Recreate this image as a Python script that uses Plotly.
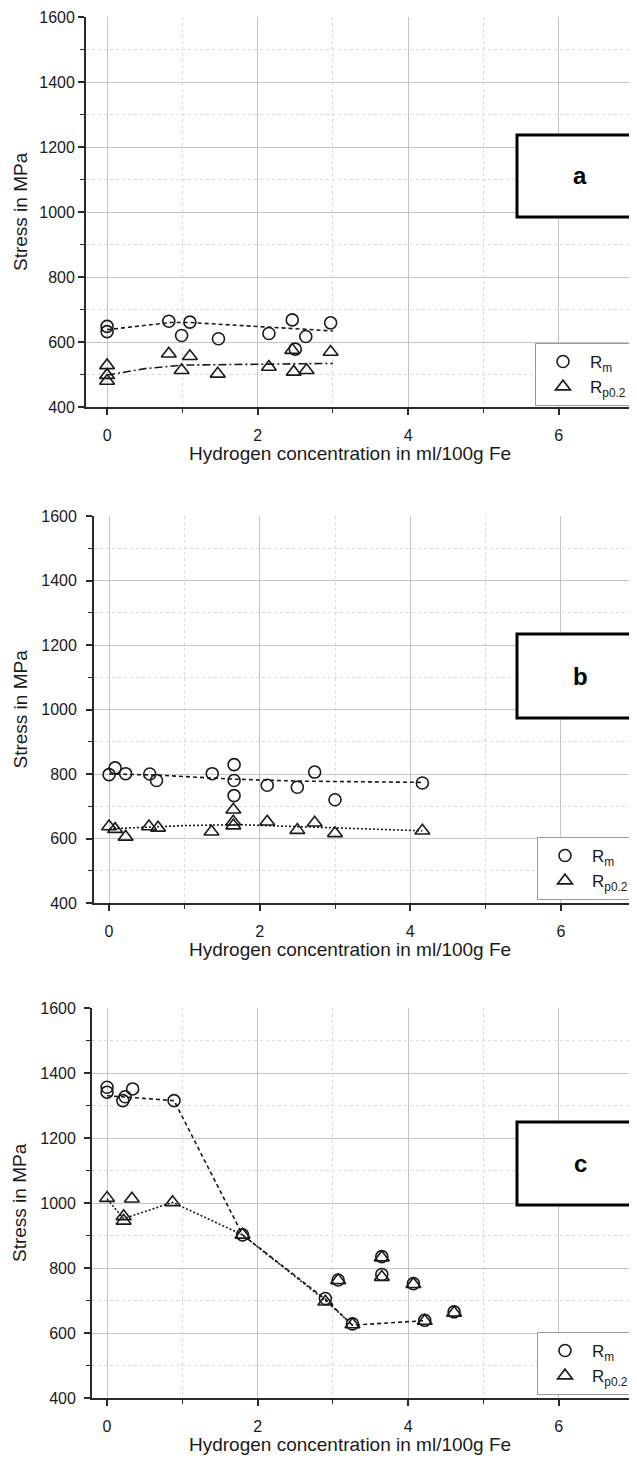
import plotly.graph_objects as go

# ---------------- data ----------------
# Panel a
a_rm_x = [0.0, 0.0, 0.82, 0.99, 1.10, 1.48, 2.15, 2.46, 2.50, 2.64, 2.97]
a_rm_y = [648, 632, 664, 620, 661, 610, 626, 668, 578, 617, 659]
a_rp_x = [0.0, 0.0, 0.0, 0.82, 0.99, 1.10, 1.47, 2.15, 2.46, 2.48, 2.65, 2.97]
a_rp_y = [528, 498, 480, 564, 513, 556, 502, 523, 575, 508, 513, 569]
a_rm_fit_x = [0.0, 0.85, 1.1, 2.2, 3.0]
a_rm_fit_y = [638, 660, 660, 646, 634]
a_rp_fit_x = [0.0, 0.5, 1.0, 2.0, 3.0]
a_rp_fit_y = [498, 518, 529, 532, 534]

# Panel b
b_rm_x = [0.0, 0.08, 0.22, 0.54, 0.63, 1.37, 1.66, 1.66, 1.66, 2.10, 2.50, 2.73, 3.00, 4.16]
b_rm_y = [798, 819, 801, 800, 780, 801, 829, 780, 733, 765, 759, 806, 720, 772]
b_rp_x = [0.0, 0.08, 0.22, 0.53, 0.65, 1.36, 1.65, 1.65, 1.65, 2.10, 2.50, 2.73, 3.00, 4.16]
b_rp_y = [637, 629, 605, 637, 633, 621, 689, 652, 640, 652, 626, 649, 616, 624]
b_rm_fit_x = [0.0, 0.6, 1.66, 2.5, 4.16]
b_rm_fit_y = [800, 797, 784, 778, 774]
b_rp_fit_x = [0.0, 1.0, 1.7, 3.0, 4.16]
b_rp_fit_y = [630, 640, 643, 633, 624]

# Panel c
c_rm_x = [0.0, 0.0, 0.21, 0.24, 0.34, 0.89, 1.80, 2.90, 3.07, 3.26, 3.65, 3.65, 4.07, 4.22, 4.61]
c_rm_y = [1356, 1341, 1315, 1327, 1351, 1315, 902, 706, 763, 628, 835, 780, 752, 639, 665]
c_rp_x = [0.0, 0.22, 0.22, 0.33, 0.87, 1.80, 2.90, 3.07, 3.26, 3.65, 3.65, 4.07, 4.22, 4.61]
c_rp_y = [1015, 959, 945, 1013, 1002, 902, 696, 762, 626, 832, 772, 750, 637, 662]
c_rm_fit_x = [0.0, 0.89, 1.80, 2.90, 3.26, 4.22]
c_rm_fit_y = [1330, 1315, 902, 704, 624, 638]
c_rp_fit_x = [0.0, 0.22, 0.87, 1.80, 2.90, 3.26]
c_rp_fit_y = [1012, 952, 1002, 902, 700, 625]

panel_labels = ["a", "b", "c"]
x_title = "Hydrogen concentration in ml/100g Fe"
y_title = "Stress in MPa"
rm_name = "R<sub>m</sub>"
rp_name = "R<sub>p0.2</sub>"

# ---------------- geometry (screen pixels; page has an 8px body margin) ----------------
OFF = 8
W, H = 637 - OFF, 1462 - OFF


def px(x):
    return (x - OFF) / W


def py(y):
    return 1 - (y - OFF) / H


panels = [
    dict(left=86, top=17, bottom=407, xr=[-0.28, 7.04], box=(517, 135, 217), leg=(535, 343), ytx=20, ystand=0,
         rm=(a_rm_x, a_rm_y, a_rm_fit_x, a_rm_fit_y), rp=(a_rp_x, a_rp_y, a_rp_fit_x, a_rp_fit_y),
         rpdash="8px,3px,2px,3px"),
    dict(left=94, top=516, bottom=903, xr=[-0.20, 7.01], box=(517, 634, 718), leg=(537, 837), ytx=20, ystand=6,
         rm=(b_rm_x, b_rm_y, b_rm_fit_x, b_rm_fit_y), rp=(b_rp_x, b_rp_y, b_rp_fit_x, b_rp_fit_y),
         rpdash="2px,2px"),
    dict(left=92, top=1008, bottom=1398, xr=[-0.20, 7.04], box=(517, 1122, 1205), leg=(537, 1332), ytx=19, ystand=5,
         rm=(c_rm_x, c_rm_y, c_rm_fit_x, c_rm_fit_y), rp=(c_rp_x, c_rp_y, c_rp_fit_x, c_rp_fit_y),
         rpdash="2px,2px"),
]

INK = "#1a1a1a"
FONT = "Liberation Sans, Arial"
fig = go.Figure()
shapes = []
annotations = []
layout = {}

for i, p in enumerate(panels):
    n = "" if i == 0 else str(i + 1)
    xa, ya = "x" + n, "y" + n
    leg = "legend" + n
    rmx, rmy, rmfx, rmfy = p["rm"]
    rpx, rpy, rpfx, rpfy = p["rp"]
    fig.add_trace(go.Scatter(x=rmfx, y=rmfy, mode="lines", xaxis=xa, yaxis=ya, showlegend=False,
                             line=dict(color=INK, width=1.6, dash="4px,3px"), hoverinfo="skip"))
    fig.add_trace(go.Scatter(x=rpfx, y=rpfy, mode="lines", xaxis=xa, yaxis=ya, showlegend=False,
                             line=dict(color=INK, width=1.6, dash=p["rpdash"]), hoverinfo="skip"))
    fig.add_trace(go.Scatter(x=rmx, y=rmy, mode="markers", name=rm_name, xaxis=xa, yaxis=ya, legend=leg,
                             marker=dict(symbol="circle-open", size=12, color=INK, line=dict(width=1.6, color=INK))))
    fig.add_trace(go.Scatter(x=rpx, y=rpy, mode="markers", name=rp_name, xaxis=xa, yaxis=ya, legend=leg,
                             marker=dict(symbol="triangle-up-open", size=13, color=INK, line=dict(width=1.6, color=INK))))

    axcommon = dict(showline=True, linecolor="#2a2a2a", linewidth=1.8, ticks="outside", ticklen=6, tickwidth=1.5,
                    tickcolor="#2a2a2a", showgrid=True, gridcolor="#c4c4c4", gridwidth=1, zeroline=False,
                    tickfont=dict(family=FONT, size=16, color="#1a1a1a"), mirror=False, automargin=False)
    minor = dict(ticks="outside", ticklen=4, tickwidth=1.3, tickcolor="#2a2a2a", showgrid=True,
                 gridcolor="#dadada", griddash="dot", gridwidth=1)
    layout["xaxis" + n] = dict(axcommon, domain=[px(p["left"]), 1.0], range=p["xr"], dtick=2, tick0=0,
                               anchor=ya, minor=dict(minor, dtick=1, tick0=0), ticklabelstandoff=7)
    layout["yaxis" + n] = dict(axcommon, domain=[py(p["bottom"]), py(p["top"])], range=[400, 1600],
                               dtick=200, tick0=400, anchor=xa, minor=dict(minor, dtick=100, tick0=400),
                               ticklabelstandoff=p["ystand"])
    layout[leg] = dict(x=px(p["leg"][0]), y=py(p["leg"][1]), xref="paper", yref="paper",
                       xanchor="left", yanchor="top", bgcolor="white", bordercolor="#999", borderwidth=1,
                       font=dict(family=FONT, size=17, color="#1a1a1a"), itemwidth=44,
                       tracegroupgap=2)
    # axis titles
    annotations.append(dict(text=x_title, xref="paper", yref="paper", x=px(350), y=py(p["bottom"] + 46),
                            showarrow=False, xanchor="center", yanchor="middle",
                            font=dict(family=FONT, size=19, color="#1a1a1a")))
    annotations.append(dict(text=y_title, xref="paper", yref="paper", x=px(p["ytx"]),
                            y=py((p["top"] + p["bottom"]) / 2), textangle=-90,
                            showarrow=False, xanchor="center", yanchor="middle",
                            font=dict(family=FONT, size=19, color="#1a1a1a")))
    # panel label box
    bx, by0, by1 = p["box"]
    shapes.append(dict(type="rect", xref="paper", yref="paper", x0=px(bx), x1=1.02,
                       y0=py(by1), y1=py(by0), line=dict(color="#000", width=3), fillcolor="white",
                       layer="above"))
    annotations.append(dict(text="<b>%s</b>" % panel_labels[i], xref="paper", yref="paper",
                            x=px(580), y=py((by0 + by1) / 2), showarrow=False,
                            xanchor="center", yanchor="middle",
                            font=dict(family=FONT, size=24, color="#000")))

fig.update_layout(width=W, height=H, margin=dict(l=0, r=0, t=0, b=0, autoexpand=False), plot_bgcolor="white",
                  paper_bgcolor="white", shapes=shapes, annotations=annotations, **layout)
fig.write_html("out.html")
